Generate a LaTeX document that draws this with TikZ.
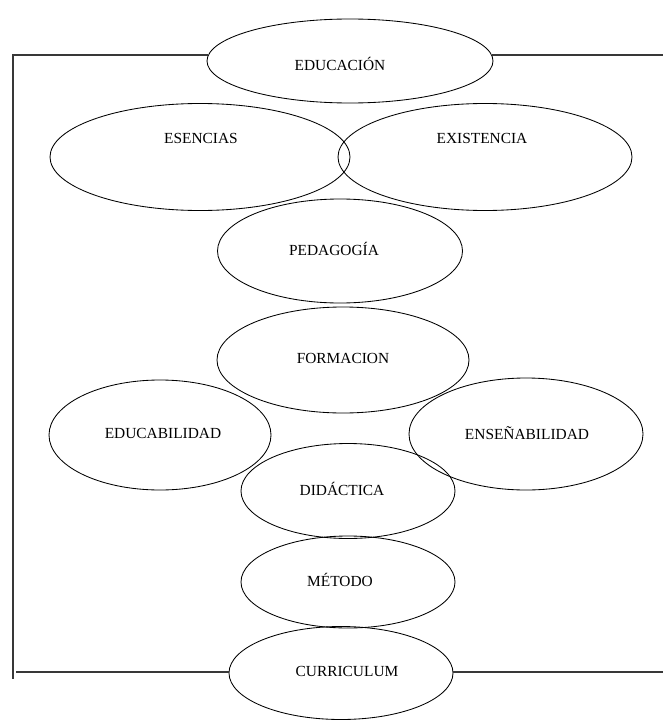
\documentclass[tikz,border=0pt]{standalone}
\usepackage{fontspec}
\setmainfont{Liberation Serif}
\usetikzlibrary{shapes.geometric}
\begin{document}
\begin{tikzpicture}[x=1pt,y=-1pt,
  oval/.style={draw=black, line width=0.85pt, ellipse, inner sep=0pt},
  word/.style={font=\fontsize{15.4}{18}\selectfont, inner sep=0pt, text=black},
  frame/.style={draw=black!78, line width=1.5pt}]
\useasboundingbox (0,0) rectangle (663,725);

% ellipses
\node[oval, minimum width=286, minimum height=84] (edu) at (350,61) {};
\node[oval, minimum width=300, minimum height=107] (ese) at (200,157) {};
\node[oval, minimum width=294, minimum height=107] (exi) at (485,157) {};
\node[oval, minimum width=245, minimum height=104] (ped) at (340,251) {};
\node[oval, minimum width=252, minimum height=106] (for) at (343,360) {};
\node[oval, minimum width=222, minimum height=110] (eab) at (160,435) {};
\node[oval, minimum width=234, minimum height=112] (ens) at (526,434) {};
\node[oval, minimum width=214, minimum height=95] (did) at (348,491) {};
\node[oval, minimum width=214, minimum height=92] (met) at (348,582) {};
\node[oval, minimum width=224, minimum height=93] (cur) at (341,673) {};

% labels
\node[word] (tedu) at (340,64) {EDUCACIÓN};
\node[word] (tese) at (201,138) {ESENCIAS};
\node[word] (texi) at (482,138) {EXISTENCIA};
\node[word] (tped) at (334,249) {PEDAGOGÍA};
\node[word] (tfor) at (343,358) {FORMACION};
\node[word] (teab) at (163,433) {EDUCABILIDAD};
\node[word] (tens) at (527,433) {ENSEÑABILIDAD};
\node[word] (tdid) at (342,489) {DIDÁCTICA};
\node[word] (tmet) at (340,580) {MÉTODO};
\node[word] (tcur) at (347,671) {CURRICULUM};

% frame lines
\coordinate (tl) at (13,55);
\coordinate (tr) at (663,55);
\coordinate (bl) at (13,679);
\coordinate (bs) at (16,672);
\coordinate (br) at (663,672);
\draw[frame] ([xshift=1.5pt]edu.west |- tl) -- (tl) -- (bl);
\draw[frame] ([xshift=-1.5pt]edu.east |- tr) -- (tr);
\draw[frame] (bs) -- (bs -| cur.west);
\draw[frame] (br -| cur.east) -- (br);
\end{tikzpicture}
\end{document}
